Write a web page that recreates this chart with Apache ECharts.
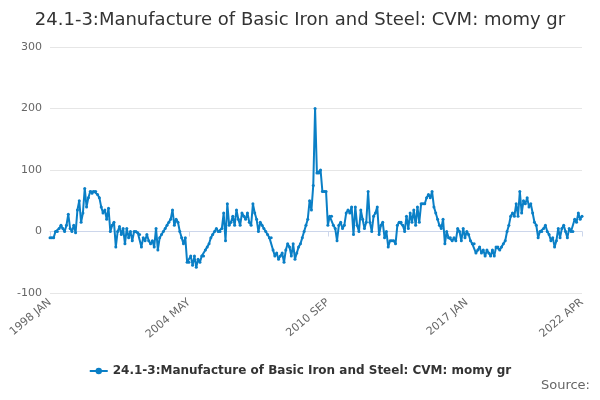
<!DOCTYPE html>
<html>
<head>
<meta charset="utf-8">
<script src="https://cdn.jsdelivr.net/npm/echarts@6/dist/echarts.min.js"></script>
<style>html,body{margin:0;padding:0;}#chart{width:600px;height:400px;}</style>
</head>
<body>
<div id="chart"></div>
<script>
var seriesName = '24.1-3:Manufacture of Basic Iron and Steel: CVM: momy gr';
var months = ['JAN','FEB','MAR','APR','MAY','JUN','JUL','AUG','SEP','OCT','NOV','DEC'];
var startYear = 1998;
var values = [
	-10, -10, -10, 0, 0, 5, 10, 5, 0, 10, 28, 5,
	0, 10, -2, 35, 50, 15, 30, 70, 40, 55, 65, 62,
	65, 65, 60, 55, 40, 30, 35, 20, 38, 0, 10, 15,
	-25, 0, 8, -5, 5, -20, 5, -10, 0, -15, 0, 0,
	-2, -5, -25, -10, -15, -5, -15, -20, -15, -25, 5, -30,
	-10, -5, 0, 5, 10, 15, 20, 35, 10, 20, 15, 0,
	-10, -20, -10, -50, -50, -40, -55, -40, -58, -45, -50, -40,
	-40, -30, -25, -20, -10, -5, 0, 5, 0, 0, 5, 30,
	-15, 45, 10, 15, 25, 10, 35, 20, 10, 30, 25, 20,
	30, 15, 10, 45, 30, 20, 0, 15, 10, 5, 0, -5,
	-10, -10, -30, -40, -35, -45, -40, -35, -50, -30, -20, -25,
	-40, -20, -45, -35, -25, -20, -10, 0, 10, 20, 50, 35,
	75, 200, 95, 95, 100, 65, 65, 65, 10, 25, 25, 10,
	5, -15, 10, 15, 5, 10, 30, 35, 30, 40, -5, 40,
	10, 0, 35, 20, 5, 15, 65, 15, 0, 25, 30, 40,
	-5, 10, 15, -10, 0, -25, -15, -15, -15, -20, 10, 15,
	15, 10, 0, 25, 5, 30, 15, 35, 10, 40, 15, 45,
	45, 45, 55, 60, 55, 65, 40, 30, 20, 10, 5, 20,
	-20, 0, -10, -10, -15, -10, -15, 5, 0, -15, 5, -10,
	0, -5, -15, -20, -20, -35, -30, -25, -35, -30, -40, -30,
	-35, -40, -30, -40, -25, -25, -30, -25, -20, -15, 0, 10,
	25, 30, 25, 45, 25, 65, 30, 50, 45, 55, 40, 45,
	30, 15, 10, -10, 0, 0, 5, 10, 0, -5, -15, -10,
	-25, -15, 5, -10, 5, 10, 0, -10, 5, 0, 0, 20,
	15, 30, 20, 25
];
var categories = [];
for (var i = 0; i < values.length; i++) {
	categories.push((startYear + Math.floor(i / 12)) + ' ' + months[i % 12]);
}
var lastIdx = values.length - 1;

var myChart = echarts.init(document.getElementById('chart'));
myChart.setOption({
	animation : false,
	title : {
		text : seriesName,
		left : 'center',
		top : 6,
		textStyle : { fontFamily : 'DejaVu Sans', fontSize : 18, fontWeight : 'normal', color : '#333' }
	},
	graphic : [ {
		type : 'text', right : 10, bottom : 8,
		style : { text : 'Source:', fontFamily : 'DejaVu Sans', fontSize : 13, fill : '#666' }
	} ],
	legend : {
		bottom : 18,
		left : 'center',
		itemWidth : 18,
		itemHeight : 8,
		data : [ seriesName ],
		textStyle : { fontFamily : 'DejaVu Sans', fontSize : 12, fontWeight : 'bold', color : '#333' }
	},
	grid : { left : 50, right : 18, top : 47, bottom : 107 },
	xAxis : {
		type : 'category',
		boundaryGap : false,
		data : categories,
		axisLine : { lineStyle : { color : '#ccd6eb' } },
		axisTick : {
			interval : function(idx) { return idx % 76 === 0 || idx === lastIdx; },
			lineStyle : { color : '#ccd6eb' }
		},
		axisLabel : {
			interval : function(idx) { return idx % 76 === 0 || idx === lastIdx; },
			rotate : 40,
			fontFamily : 'DejaVu Sans',
			fontSize : 11,
			color : '#666'
		}
	},
	yAxis : {
		type : 'value',
		min : -100, max : 300, interval : 100,
		axisLabel : { fontFamily : 'DejaVu Sans', fontSize : 11, color : '#666' },
		splitLine : { lineStyle : { color : '#e6e6e6' } }
	},
	series : [ {
		name : seriesName,
		type : 'line',
		data : values,
		color : '#0a7fc6',
		symbol : 'circle',
		symbolSize : 3,
		showAllSymbol : true,
		lineStyle : { width : 2 }
	} ]
});
</script>
</body>
</html>
